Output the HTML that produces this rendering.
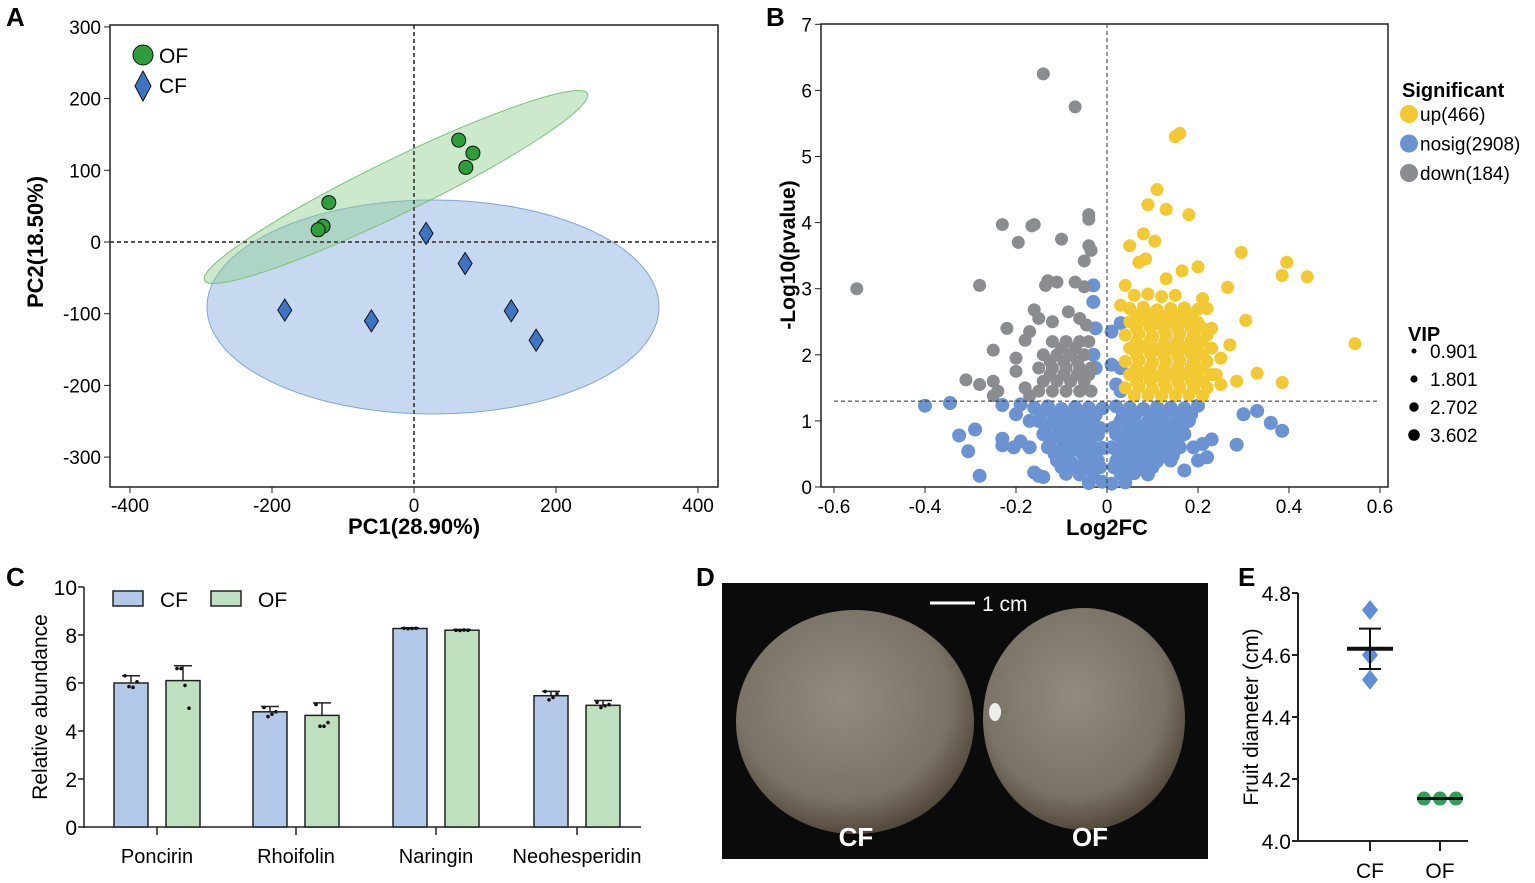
<!DOCTYPE html>
<html><head><meta charset="utf-8"><style>
body{margin:0;background:#fff;}
svg{display:block;font-family:"Liberation Sans",sans-serif;}
</style></head><body>
<svg id="fig" width="1535" height="883" viewBox="0 0 1535 883">
<defs>
<radialGradient id="fruitG" cx="45%" cy="40%" r="60%"><stop offset="0" stop-color="#918b80"/><stop offset="0.75" stop-color="#7a7266"/><stop offset="1" stop-color="#54493d"/></radialGradient>
</defs>
<g font-weight="bold" font-size="26" fill="#000">
<text x="6" y="26">A</text>
<text x="766" y="26">B</text>
<text x="6" y="586">C</text>
<text x="696" y="586">D</text>
<text x="1238" y="586">E</text>
</g>
<g id="pA"></g>
<g id="pB"></g>
<g id="pC"></g>
<g id="pD">
<rect x="722" y="583" width="486" height="276" fill="#0b0b0b"/>
<ellipse cx="855" cy="722" rx="119" ry="112" fill="url(#fruitG)"/>
<ellipse cx="1084" cy="719" rx="101" ry="111" fill="url(#fruitG)"/>
<ellipse cx="995" cy="712" rx="6" ry="9" fill="#eee"/>
<line x1="930" y1="603" x2="975" y2="603" stroke="#fff" stroke-width="3"/>
<text x="982" y="611" fill="#fff" font-size="21">1 cm</text>
<text x="856" y="846" fill="#fff" font-size="26" font-weight="bold" text-anchor="middle">CF</text>
<text x="1090" y="846" fill="#fff" font-size="26" font-weight="bold" text-anchor="middle">OF</text>
</g>
<g id="pE"></g>
</svg>
<script>
const NS="http://www.w3.org/2000/svg";
function mk(p,t,a,txt){const e=document.createElementNS(NS,t);for(const k in a)e.setAttribute(k,a[k]);if(txt!==undefined)e.textContent=txt;p.appendChild(e);return e;}

// ---------- Panel A data ----------
const pcaTicksX=[-400,-200,0,200,400];
const pcaTicksY=[300,200,100,0,-100,-200,-300];
const ofX=[-120,-128,-135,63,83,73];
const ofY=[55,22,17,142,124,104];
const cfX=[17,72,-182,-60,137,172];
const cfY=[12,-30,-95,-110,-96,-137];
// ---------- Panel B data ----------
const volTicksX=[-0.6,-0.4,-0.2,0,0.2,0.4,0.6];
const volTicksY=[0,1,2,3,4,5,6,7];
const nosigX=[-0.4,-0.345,-0.325,-0.29,-0.305,-0.28,-0.23,-0.23,-0.205,-0.19,-0.17,-0.16,-0.15,-0.23,-0.2,-0.19,-0.17,-0.14,0.3,0.33,0.36,0.385,0.285,0.22,0.23,0.2,0.19,0.21,0.17,0.2,-0.03,-0.03,0.03,-0.025,0.01,-0.03,-0.025,0.01,0.03,0.02,0.03,
-0.16,-0.13,-0.1,-0.07,-0.04,-0.01,0.02,0.05,0.08,0.11,0.14,0.17,
-0.145,-0.115,-0.085,-0.055,-0.025,0.035,0.065,0.095,0.125,0.155,0.185,
-0.15,-0.12,-0.09,-0.06,-0.03,0.03,0.06,0.09,0.12,0.15,0.18,
-0.135,-0.105,-0.075,-0.045,-0.015,0.015,0.045,0.075,0.105,0.135,0.165,
-0.14,-0.11,-0.08,-0.05,-0.02,0.02,0.05,0.08,0.11,0.14,0.17,
-0.125,-0.095,-0.065,-0.035,0.035,0.065,0.095,0.125,0.155,
-0.13,-0.1,-0.07,-0.04,-0.01,0.01,0.04,0.07,0.1,0.13,0.16,
-0.115,-0.085,-0.055,-0.025,0.025,0.055,0.085,0.115,0.145,
-0.11,-0.08,-0.05,-0.02,0.02,0.05,0.08,0.11,0.14,
-0.1,-0.07,-0.04,-0.015,0.015,0.04,0.07,0.1,
-0.09,-0.06,-0.03,0.03,0.06,0.09,
-0.04,-0.01,0.01,0.04];
const nosigY=[1.23,1.27,0.78,0.87,0.54,0.17,0.73,0.63,0.6,0.69,0.6,0.22,0.17,1.24,1.1,1.25,1.0,0.15,1.1,1.15,0.97,0.85,0.64,0.45,0.72,1.23,0.6,0.65,0.25,0.4,3.05,2.8,2.48,2.4,2.35,2.0,1.8,1.85,1.8,1.55,1.45,
1.2,1.22,1.18,1.21,1.2,1.19,1.22,1.2,1.18,1.21,1.2,1.19,
1.1,1.08,1.11,1.1,1.09,1.1,1.12,1.09,1.1,1.08,1.1,
1.0,0.98,1.01,1.0,0.99,1.0,1.02,0.99,1.0,0.98,1.0,
0.9,0.88,0.91,0.9,0.89,0.9,0.92,0.89,0.9,0.88,0.9,
0.8,0.78,0.81,0.8,0.79,0.8,0.82,0.79,0.8,0.78,0.8,
0.7,0.69,0.71,0.7,0.7,0.71,0.69,0.7,0.68,
0.6,0.58,0.61,0.6,0.59,0.6,0.62,0.59,0.6,0.58,0.6,
0.5,0.49,0.51,0.5,0.5,0.51,0.49,0.5,0.48,
0.4,0.38,0.41,0.4,0.39,0.4,0.42,0.39,0.4,
0.3,0.29,0.31,0.3,0.3,0.31,0.29,0.3,
0.2,0.19,0.21,0.2,0.21,0.19,
0.06,0.08,0.05,0.07];
const upX=[0.16,0.15,0.11,0.09,0.13,0.18,0.08,0.105,0.05,0.295,0.395,0.385,0.44,0.33,0.385,0.285,0.545,0.305,0.265,0.2,0.165,0.13,0.07,0.085,0.04,0.03,0.23,0.27,0.25,0.24,0.25,
0.06,0.09,0.12,0.15,0.21,
0.05,0.08,0.11,0.14,0.17,0.2,0.22,
0.05,0.08,0.11,0.14,0.17,0.2,
0.04,0.07,0.1,0.13,0.16,0.19,0.22,
0.05,0.08,0.11,0.14,0.17,0.2,0.23,
0.04,0.07,0.1,0.13,0.16,0.19,0.22,
0.05,0.08,0.11,0.14,0.17,0.2,0.23,
0.04,0.07,0.1,0.13,0.16,0.19,0.22,
0.06,0.09,0.12,0.15,0.18,0.21,
0.065,0.095,0.125,0.155,0.185,
0.065,0.095,0.125,0.155,0.185,0.21,
0.065,0.095,0.125,0.155,0.185,0.21,
0.065,0.095,0.125,0.155,0.185,0.21,
0.065,0.095,0.125,0.155,0.185,0.21,
0.065,0.095,0.125,0.155,0.185,0.21];
const upY=[5.35,5.3,4.5,4.27,4.2,4.12,3.83,3.72,3.65,3.55,3.4,3.2,3.18,1.72,1.58,1.6,2.17,2.52,3.02,3.33,3.27,3.15,3.4,3.45,3.05,2.75,2.4,2.15,1.95,1.7,1.55,
2.9,2.92,2.88,2.9,2.85,
2.7,2.72,2.68,2.7,2.71,2.69,2.7,
2.5,2.52,2.48,2.5,2.51,2.49,
2.3,2.32,2.28,2.3,2.31,2.29,2.3,
2.1,2.12,2.08,2.1,2.11,2.09,2.1,
1.9,1.92,1.88,1.9,1.91,1.89,1.9,
1.7,1.72,1.68,1.7,1.71,1.69,1.7,
1.5,1.52,1.48,1.5,1.51,1.49,1.5,
1.38,1.39,1.37,1.38,1.39,1.38,
2.6,2.62,2.58,2.6,2.6,
2.2,2.22,2.18,2.2,2.21,2.2,
1.8,1.82,1.78,1.8,1.81,1.8,
1.6,1.62,1.58,1.6,1.61,1.6,
2.4,2.42,2.38,2.4,2.41,2.4,
2.0,2.02,1.98,2.0,2.01,2.0];
const downX=[-0.55,-0.14,-0.07,-0.04,-0.04,-0.23,-0.165,-0.16,-0.195,-0.1,-0.04,-0.035,-0.05,-0.28,-0.13,-0.135,-0.11,-0.07,-0.05,-0.22,-0.25,-0.31,-0.28,-0.25,-0.24,-0.25,-0.16,-0.15,-0.12,-0.085,-0.06,-0.045,-0.17,-0.18,-0.2,-0.2,-0.18,-0.17,
-0.12,-0.09,-0.06,-0.04,-0.14,-0.11,-0.08,-0.05,-0.15,-0.12,-0.09,-0.06,-0.035,-0.14,-0.11,-0.08,-0.05,-0.15,-0.12,-0.09,-0.06,-0.035,-0.125,-0.095,-0.065,-0.125,-0.095,-0.065,-0.04,-0.1,-0.07];
const downY=[3.0,6.25,5.75,4.12,4.05,3.97,3.95,3.97,3.7,3.75,3.65,3.58,3.42,3.05,3.12,3.05,3.1,3.1,3.03,2.4,2.07,1.62,1.55,1.6,1.45,1.38,2.68,2.55,2.5,2.65,2.55,2.45,2.35,2.22,1.95,1.75,1.5,1.38,
2.2,2.2,2.2,2.2,2.0,2.0,2.0,2.0,1.8,1.8,1.8,1.8,1.8,1.6,1.6,1.6,1.6,1.45,1.45,1.45,1.45,1.45,1.9,1.9,1.9,1.7,1.7,1.7,1.7,2.1,2.1];
const legendLabels=["up(466)","nosig(2908)","down(184)"];
const vipLabels=["0.901","1.801","2.702","3.602"];
// ---------- Panel C data ----------
const categories=["Poncirin","Rhoifolin","Naringin","Neohesperidin"];
const cfMeans=[6.0,4.8,8.27,5.47];
const ofMeans=[6.1,4.65,8.2,5.07];
const cfErrTop=[6.3,5.02,8.3,5.65];
const ofErrTop=[6.72,5.17,8.23,5.27];
const cfDots=[[6.3,5.85,5.82,6.05],[4.98,4.6,4.7,4.8],[8.28,8.26,8.27,8.28],[5.65,5.3,5.4,5.55]];
const ofDots=[[6.6,6.6,5.9,4.95],[5.1,4.2,4.2,4.35],[8.2,8.19,8.21,8.2],[5.2,4.98,5.05,5.1]];
const barTicks=[0,2,4,6,8,10];
// ---------- Panel E data ----------
const eTicks=[4.0,4.2,4.4,4.6,4.8];
const eCF=[4.745,4.6,4.52];
const eOF=[4.137,4.137,4.137];
const eCFmean=4.62, eCFse=0.065, eOFmean=4.137;

// ================= Panel A =================
(function(){
const g=document.getElementById('pA');
const sx=v=>414+v*0.71, sy=v=>242-v*0.717;
let e;
e=mk(g,'ellipse',{cx:433,cy:307,rx:226,ry:107,fill:'#b9cfee',stroke:'#7ea6d8','fill-opacity':0.8});

e=mk(g,'ellipse',{cx:396,cy:187,rx:213,ry:27,transform:'rotate(-26 396 187)',fill:'#8fce8f','fill-opacity':0.45,stroke:'#7ac07a'});

mk(g,'line',{x1:sx(0),y1:25,x2:sx(0),y2:487,stroke:'#555','stroke-width':2,'stroke-dasharray':'4,3'});
mk(g,'line',{x1:110,y1:sy(0),x2:718,y2:sy(0),stroke:'#555','stroke-width':2,'stroke-dasharray':'4,3'});
mk(g,'rect',{x:110,y:25,width:608,height:462,fill:'none',stroke:'#222','stroke-width':1.5});
pcaTicksX.forEach(v=>{mk(g,'line',{x1:sx(v),y1:487,x2:sx(v),y2:493,stroke:'#222'});
 e=mk(g,'text',{x:sx(v),y:512,'text-anchor':'middle','font-size':19},v);});
pcaTicksY.forEach(v=>{mk(g,'line',{x1:104,y1:sy(v),x2:110,y2:sy(v),stroke:'#222'});
 e=mk(g,'text',{x:101,y:sy(v)+7,'text-anchor':'end','font-size':19},v);});
e=mk(g,'text',{x:414,y:534,'text-anchor':'middle','font-size':22,'font-weight':'bold'},'PC1(28.90%)');
e=mk(g,'text',{x:0,y:0,transform:'translate(43 242) rotate(-90)','text-anchor':'middle','font-size':22,'font-weight':'bold'},'PC2(18.50%)');
ofX.forEach((v,i)=>{e=mk(g,'circle',{cx:sx(v),cy:sy(ofY[i]),r:7,fill:'#2e9e3a',stroke:'#111','stroke-width':1});});
cfX.forEach((v,i)=>{const x=sx(v),y=sy(cfY[i]);e=mk(g,'polygon',{points:`${x},${y-11} ${x+7},${y} ${x},${y+11} ${x-7},${y}`,fill:'#3e74c4',stroke:'#111','stroke-width':1});});
e=mk(g,'circle',{cx:143,cy:55,r:10,fill:'#2e9e3a',stroke:'#111'});
e=mk(g,'text',{x:159,y:63,'font-size':21},'OF');
e=mk(g,'polygon',{points:'143,71 151,86 143,101 135,86',fill:'#3e74c4',stroke:'#111'});
e=mk(g,'text',{x:159,y:93,'font-size':21},'CF');
})();

// ================= Panel B =================
(function(){
const g=document.getElementById('pB');
const sx=v=>1107+v*455, sy=v=>487-v*66.1;
let e;
mk(g,'rect',{x:821,y:24,width:567,height:463,fill:'none',stroke:'#222','stroke-width':1.5});
const draw=(xs,ys,col,name,r)=>xs.forEach((v,i)=>{e=mk(g,'circle',{cx:sx(v),cy:sy(ys[i]),r:r,fill:col});});
draw(nosigX,nosigY,'#6b93d2','nosig-point',7);
draw(downX,downY,'#8a8c8f','down-point',6.5);
draw(upX,upY,'#f2c833','up-point',6.5);
mk(g,'line',{x1:sx(0),y1:24,x2:sx(0),y2:487,stroke:'#333','stroke-width':1,'stroke-dasharray':'4,3'});
mk(g,'line',{x1:sx(-0.6),y1:sy(1.3),x2:sx(0.6),y2:sy(1.3),stroke:'#333','stroke-width':1,'stroke-dasharray':'4,3'});
volTicksX.forEach(v=>{mk(g,'line',{x1:sx(v),y1:487,x2:sx(v),y2:493,stroke:'#222'});
 e=mk(g,'text',{x:sx(v),y:513,'text-anchor':'middle','font-size':19},v);});
volTicksY.forEach(v=>{mk(g,'line',{x1:815,y1:sy(v),x2:821,y2:sy(v),stroke:'#222'});
 e=mk(g,'text',{x:812,y:sy(v)+7,'text-anchor':'end','font-size':19},v);});
e=mk(g,'text',{x:1107,y:535,'text-anchor':'middle','font-size':22,'font-weight':'bold'},'Log2FC');
e=mk(g,'text',{x:0,y:0,transform:'translate(795 255) rotate(-90)','text-anchor':'middle','font-size':21,'font-weight':'bold'},'-Log10(pvalue)');
e=mk(g,'text',{x:1402,y:97,'font-size':20,'font-weight':'bold'},'Significant');
const cols=['#f2c833','#6b93d2','#8a8c8f'];
legendLabels.forEach((l,i)=>{const y=114+i*29.5;
 e=mk(g,'circle',{cx:1409,cy:y,r:9,fill:cols[i]});
 e=mk(g,'text',{x:1420,y:y+7,'font-size':19},l);});
e=mk(g,'text',{x:1408,y:341,'font-size':20,'font-weight':'bold'},'VIP');
vipLabels.forEach((l,i)=>{const y=351+i*28;
 e=mk(g,'circle',{cx:1414,cy:y,r:2.5+i*1.1,fill:'#000'});
 e=mk(g,'text',{x:1430,y:y+7,'font-size':19},l);});
})();

// ================= Panel C =================
(function(){
const g=document.getElementById('pC');
const sy=v=>827-v*24;
const centers=[157,296,436,577];
let e;
barTicks.forEach(v=>{mk(g,'line',{x1:78,y1:sy(v),x2:84,y2:sy(v),stroke:'#222','stroke-width':1.5});
 e=mk(g,'text',{x:77,y:sy(v)+8,'text-anchor':'end','font-size':21},v);});
mk(g,'line',{x1:84,y1:sy(10),x2:84,y2:828,stroke:'#222','stroke-width':1.5});
mk(g,'line',{x1:84,y1:827,x2:641,y2:827,stroke:'#222','stroke-width':1.5});
const bw=34;
categories.forEach((c,i)=>{
 const cx=centers[i];
 mk(g,'line',{x1:cx,y1:827,x2:cx,y2:835,stroke:'#222','stroke-width':1.5});
 e=mk(g,'text',{x:cx,y:863,'text-anchor':'middle','font-size':20},c);
 [[cfMeans,cfErrTop,cfDots,'#b3c9ea',-26,'cf'],[ofMeans,ofErrTop,ofDots,'#bfe0bf',26,'of']].forEach(s=>{
  const x=cx+s[4]-bw/2, y=sy(s[0][i]);
  e=mk(g,'rect',{x:x,y:y,width:bw,height:827-y,fill:s[3],stroke:'#222','stroke-width':1.5});
  
  const mx=cx+s[4];
  mk(g,'line',{x1:mx,y1:y,x2:mx,y2:sy(s[1][i]),stroke:'#222','stroke-width':1.5});
  mk(g,'line',{x1:mx-9,y1:sy(s[1][i]),x2:mx+9,y2:sy(s[1][i]),stroke:'#222','stroke-width':1.5});
  s[2][i].forEach((d,k)=>{e=mk(g,'circle',{cx:mx-6+k*4,cy:sy(d),r:1.8,fill:'#111'});});
 });
});
e=mk(g,'text',{x:0,y:0,transform:'translate(47 707) rotate(-90)','text-anchor':'middle','font-size':21},'Relative abundance');
e=mk(g,'rect',{x:113,y:591,width:30,height:15,fill:'#b3c9ea',stroke:'#222','stroke-width':1.5});
e=mk(g,'text',{x:160,y:607,'font-size':21},'CF');
e=mk(g,'rect',{x:211,y:591,width:30,height:15,fill:'#bfe0bf',stroke:'#222','stroke-width':1.5});
e=mk(g,'text',{x:258,y:607,'font-size':21},'OF');
})();

// ================= Panel E =================
(function(){
const g=document.getElementById('pE');
const sy=v=>841-(v-4.0)*310;
const xCF=1370,xOF=1440,ax=1298;
let e;
mk(g,'line',{x1:ax,y1:sy(4.8),x2:ax,y2:842,stroke:'#222','stroke-width':2});
mk(g,'line',{x1:ax,y1:841,x2:1468,y2:841,stroke:'#222','stroke-width':2});
eTicks.forEach(v=>{mk(g,'line',{x1:ax-6,y1:sy(v),x2:ax,y2:sy(v),stroke:'#222','stroke-width':2});
 e=mk(g,'text',{x:ax-7,y:sy(v)+8,'text-anchor':'end','font-size':21},v.toFixed(1));});
[[xCF,'CF'],[xOF,'OF']].forEach(a=>{mk(g,'line',{x1:a[0],y1:841,x2:a[0],y2:851,stroke:'#222','stroke-width':2});
 e=mk(g,'text',{x:a[0],y:878,'text-anchor':'middle','font-size':21},a[1]);});
e=mk(g,'text',{x:0,y:0,transform:'translate(1258 717) rotate(-90)','text-anchor':'middle','font-size':21},'Fruit diameter (cm)');
eCF.forEach(v=>{const y=sy(v);e=mk(g,'polygon',{points:`${xCF},${y-10} ${xCF+8},${y} ${xCF},${y+10} ${xCF-8},${y}`,fill:'#5e8fd6'});});
mk(g,'line',{x1:xCF-23,y1:sy(eCFmean),x2:xCF+23,y2:sy(eCFmean),stroke:'#111','stroke-width':4});
mk(g,'line',{x1:xCF,y1:sy(eCFmean+eCFse),x2:xCF,y2:sy(eCFmean-eCFse),stroke:'#111','stroke-width':2});
mk(g,'line',{x1:xCF-11,y1:sy(eCFmean+eCFse),x2:xCF+11,y2:sy(eCFmean+eCFse),stroke:'#111','stroke-width':2});
mk(g,'line',{x1:xCF-11,y1:sy(eCFmean-eCFse),x2:xCF+11,y2:sy(eCFmean-eCFse),stroke:'#111','stroke-width':2});
eOF.forEach((v,i)=>{e=mk(g,'circle',{cx:xOF-16+i*16,cy:sy(v),r:7,fill:'#2e9e5a'});});
mk(g,'line',{x1:xOF-23,y1:sy(eOFmean),x2:xOF+23,y2:sy(eOFmean),stroke:'#111','stroke-width':3});
})();
</script>
</body></html>
